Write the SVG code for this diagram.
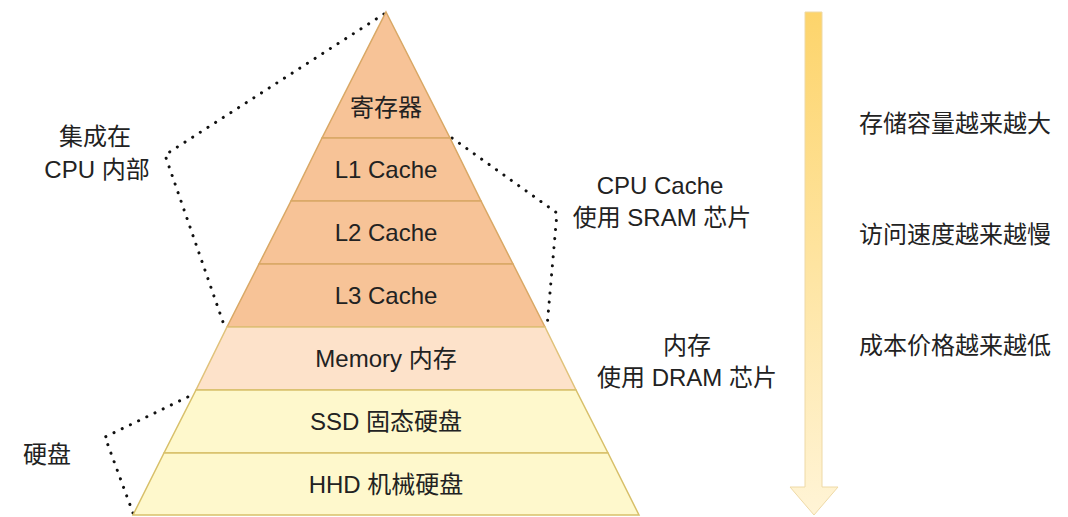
<svg xmlns="http://www.w3.org/2000/svg" width="1068" height="517" viewBox="0 0 1068 517">
<defs>
<linearGradient id="ag" x1="0" y1="0" x2="0" y2="1"><stop offset="0" stop-color="#fdd46b"/><stop offset="1" stop-color="#fff4d6"/></linearGradient>
<style>
text{font-family:"Liberation Sans","Noto Sans CJK SC",sans-serif;font-size:24px;fill:#222;text-anchor:middle}
.c{fill:#f7c397;stroke:#d9a865;stroke-width:1.5}
.m{fill:#fde2ca;stroke:#e0c27a;stroke-width:1.5}
.d{fill:#fef8cc;stroke:#d8c06a;stroke-width:1.5}
.dot{fill:none;stroke:#111;stroke-width:3;stroke-dasharray:0.1 9;stroke-linecap:round}
</style>
</defs>
<rect width="1068" height="517" fill="#fff"/>
<g id="connectors">
<polyline class="dot" points="384,14 165,155 224,325"/>
<polyline class="dot" points="452,138 557,213 547,327"/>
<polyline class="dot" points="196,393 105,437 133,513"/>
</g>
<g id="reg"><polygon class="c" points="386,12 450,138 322,138"/><text x="386" y="116">寄存器</text></g>
<g id="l1"><polygon class="c" points="322,138 450,138 481,201 291,201"/><text x="386" y="178">L1 Cache</text></g>
<g id="l2"><polygon class="c" points="291,201 481,201 513,264 259,264"/><text x="386" y="241">L2 Cache</text></g>
<g id="l3"><polygon class="c" points="259,264 513,264 545,327 227,327"/><text x="386" y="304">L3 Cache</text></g>
<g id="mem"><polygon class="m" points="227,327 545,327 576,390 196,390"/><text x="386" y="367">Memory 内存</text></g>
<g id="ssd"><polygon class="d" points="196,390 576,390 608,453 164,453"/><text x="386" y="430">SSD 固态硬盘</text></g>
<g id="hhd"><polygon class="d" points="164,453 608,453 639,515 133,515"/><text x="386" y="493">HHD 机械硬盘</text></g>
<g id="lbl1"><text x="95" y="145">集成在</text><text x="97" y="178">CPU 内部</text></g>
<g id="lbl2"><text x="660" y="194">CPU Cache</text><text x="662" y="226">使用 SRAM 芯片</text></g>
<g id="lbl3"><text x="687" y="354">内存</text><text x="687" y="386">使用 DRAM 芯片</text></g>
<g id="lbl4"><text x="47" y="463">硬盘</text></g>
<g id="arrow"><polygon points="805,12 822,12 822,487 838,487 814,515 790,487 805,487" fill="url(#ag)" stroke="#eed9a6" stroke-width="1"/></g>
<g id="side"><text x="955" y="132">存储容量越来越大</text><text x="955" y="243">访问速度越来越慢</text><text x="955" y="354">成本价格越来越低</text></g>
</svg>
